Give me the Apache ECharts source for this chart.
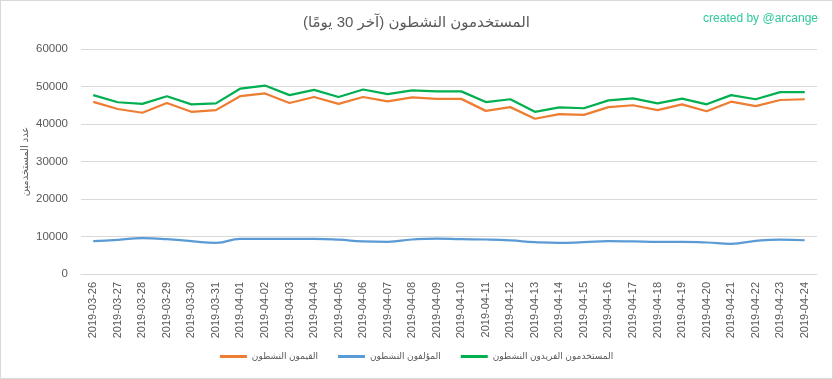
<!DOCTYPE html>
<html>
<head>
<meta charset="utf-8">
<script src="https://cdn.jsdelivr.net/npm/echarts@6/dist/echarts.min.js"></script>
<style>
html,body{margin:0;padding:0;background:#fff;}
#c{width:831px;height:377px;border:1px solid #d9d9d9;}
</style>
</head>
<body>
<div id="c"></div>
<script>
const categories = ['2019-03-26','2019-03-27','2019-03-28','2019-03-29','2019-03-30','2019-03-31','2019-04-01','2019-04-02','2019-04-03','2019-04-04','2019-04-05','2019-04-06','2019-04-07','2019-04-08','2019-04-09','2019-04-10','2019-04-11','2019-04-12','2019-04-13','2019-04-14','2019-04-15','2019-04-16','2019-04-17','2019-04-18','2019-04-19','2019-04-20','2019-04-21','2019-04-22','2019-04-23','2019-04-24'];
const curators = [45900,44000,43000,45600,43250,43700,47450,48150,45600,47200,45350,47200,46050,47100,46700,46700,43500,44500,41400,42650,42450,44500,45000,43700,45250,43400,45950,44750,46400,46600];
const authors = [8750,9100,9550,9300,8750,8300,9350,9350,9350,9350,9150,8700,8600,9200,9450,9300,9200,8950,8500,8300,8500,8750,8700,8600,8600,8400,8050,8850,9200,9000];
const uniques = [47700,45800,45350,47400,45250,45500,49450,50250,47700,49100,47200,49200,47950,48950,48700,48700,45850,46600,43250,44450,44200,46300,46850,45500,46750,45250,47700,46600,48500,48500];
const seriesNames = ['القيمون النشطون','المؤلفون النشطون','المستخدمون الفريدون النشطون'];
const yTicks = {min:0, max:60000, interval:10000};

const font = "'Liberation Sans','DejaVu Sans',sans-serif";
const chart = echarts.init(document.getElementById('c'));
chart.setOption({
  animation:false,
  title:[
    {text:'المستخدمون النشطون (آخر 30 يومًا)', left:'center', top:9,
     textStyle:{fontFamily:font, fontSize:15, fontWeight:'normal', color:'#595959'}},
    {text:'created by @arcange', right:9, top:7,
     textStyle:{fontFamily:font, fontSize:12, fontWeight:'normal', color:'#2ec99e'}}
  ],
  color:['#ED7D31','#5B9BD5','#00B050'],
  legend:{
    data:seriesNames, bottom:12, left:'center', icon:'rect', itemWidth:27, itemHeight:3, itemGap:20,
    textStyle:{fontFamily:font, fontSize:9, color:'#595959'}
  },
  grid:{left:80, right:15, top:48, bottom:104},
  xAxis:{
    type:'category', data:categories, boundaryGap:true,
    axisLine:{lineStyle:{color:'#d9d9d9'}}, axisTick:{show:false},
    axisLabel:{rotate:90, interval:0, fontFamily:font, fontSize:11, color:'#595959', margin:8}
  },
  yAxis:{
    type:'value', min:yTicks.min, max:yTicks.max, interval:yTicks.interval,
    name:'عدد المستخدمين', nameLocation:'middle', nameGap:51, nameRotate:90, nameMoveOverlap:false,
    nameTextStyle:{fontFamily:font, fontSize:10, color:'#595959'},
    axisLine:{show:false}, axisTick:{show:false},
    axisLabel:{fontFamily:font, fontSize:11.5, color:'#595959', margin:13, formatter:function(v){return String(v);}},
    splitLine:{lineStyle:{color:'#d9d9d9'}}
  },
  series:[
    {name:seriesNames[0], type:'line', data:curators, showSymbol:false, lineStyle:{width:2.25}},
    {name:seriesNames[1], type:'line', data:authors, showSymbol:false, smooth:true, lineStyle:{width:2.25}},
    {name:seriesNames[2], type:'line', data:uniques, showSymbol:false, lineStyle:{width:2.25}}
  ]
});
</script>
</body>
</html>
